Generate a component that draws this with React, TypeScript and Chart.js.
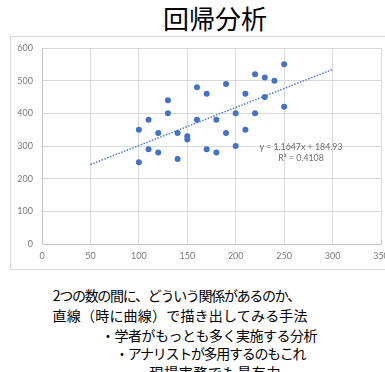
import { useEffect, useRef } from "react";
import { Chart, registerables } from "chart.js";

Chart.register(...registerables);

// ---- data ----
const xValues = [100, 100, 110, 110, 120, 120, 130, 130, 140, 140, 150, 150, 160, 160, 170, 170, 180, 180, 190, 190, 200, 200, 210, 210, 220, 220, 230, 230, 240, 250, 250];
const yValues = [350, 250, 380, 290, 340, 280, 440, 400, 340, 260, 330, 320, 480, 380, 460, 290, 380, 280, 490, 340, 400, 300, 460, 350, 520, 400, 510, 450, 500, 550, 420];
const trendX = [50, 300];
const slope = 1.1647;
const intercept = 184.93;
const rSquared = "0.4108";
const xTicks = [0, 50, 100, 150, 200, 250, 300, 350];
const yTicks = [0, 100, 200, 300, 400, 500, 600];

const titleText = "回帰分析";
const bodyLines = [
  "2つの数の間に、どういう関係があるのか、",
  "直線（時に曲線）で描き出してみる手法",
  "・学者がもっとも多く実施する分析",
  "・アナリストが多用するのもこれ",
  "・現場実務でも最有力",
];

const BLUE = "#4472C4";
const GRID = "#d9d9d9";
const TICK = "#7a7a7a";
const CJK = '"Noto Sans CJK JP", "Noto Sans CJK SC", sans-serif';

export default function App() {
  const ref = useRef<HTMLCanvasElement>(null);

  useEffect(() => {
    const chart = new Chart(ref.current!, {
      type: "scatter",
      data: {
        datasets: [
          {
            label: "data",
            data: xValues.map((x, i) => ({ x, y: yValues[i] })),
            backgroundColor: BLUE,
            borderColor: BLUE,
            pointRadius: 3,
            borderWidth: 0,
            order: 1,
          },
          {
            label: "trend",
            data: trendX.map((x) => ({ x, y: slope * x + intercept })),
            showLine: true,
            pointRadius: 0,
            borderColor: BLUE,
            borderWidth: 1.4,
            borderDash: [1.5, 1.5],
            fill: false,
            order: 2,
          } as any,
        ],
      },
      options: {
        animation: false,
        responsive: false,
        maintainAspectRatio: false,
        layout: { padding: { left: 0, top: 48, right: 19, bottom: 0 } },
        plugins: { legend: { display: false }, tooltip: { enabled: false } },
        scales: {
          x: {
            type: "linear",
            min: xTicks[0],
            max: xTicks[xTicks.length - 1],
            afterBuildTicks: (s: any) => {
              s.ticks = xTicks.map((v) => ({ value: v }));
            },
            ticks: { padding: 7, color: TICK, font: { family: "Lato", size: 9 } },
            grid: { color: GRID, drawTicks: false },
            border: { color: "#c8c8c8" },
            afterFit: (s: any) => {
              s.height = 36;
            },
          },
          y: {
            type: "linear",
            min: yTicks[0],
            max: yTicks[yTicks.length - 1],
            afterBuildTicks: (s: any) => {
              s.ticks = yTicks.map((v) => ({ value: v }));
            },
            ticks: { padding: 9, color: TICK, font: { family: "Lato", size: 9 } },
            grid: { color: GRID, drawTicks: false },
            border: { color: "#c8c8c8" },
            afterFit: (s: any) => {
              s.width = 42;
            },
          },
        },
      },
    });
    return () => chart.destroy();
  }, []);

  const lineStyle = (left: number, top: number, ls: number): any => ({
    position: "absolute",
    left,
    top,
    fontFamily: CJK,
    fontSize: 14,
    lineHeight: "14px",
    letterSpacing: ls,
    whiteSpace: "nowrap",
    color: "#000",
  });

  return (
    <div
      style={{
        position: "absolute",
        left: 0,
        top: 0,
        width: 385,
        height: 372,
        overflow: "hidden",
        background: "#fff",
      }}
    >
      <div
        style={{
          position: "absolute",
          left: 0,
          top: 4.5,
          width: 430,
          textAlign: "center",
          fontFamily: CJK,
          fontSize: 26,
          lineHeight: "26px",
          color: "#000",
          whiteSpace: "nowrap",
        }}
      >
        {titleText}
      </div>
      <div
        style={{
          position: "absolute",
          left: 10,
          top: 36,
          width: 400,
          height: 234,
          border: "1px solid #d9d9d9",
          boxSizing: "border-box",
        }}
      />
      <canvas
        ref={ref}
        width={400}
        height={280}
        style={{ position: "absolute", left: 0, top: 0, width: 400, height: 280 }}
      />
      <div
        style={{
          position: "absolute",
          left: 221,
          top: 141,
          width: 160,
          textAlign: "center",
          fontFamily: "Lato, sans-serif",
          fontSize: 8.8,
          lineHeight: "11.3px",
          color: "#6e6e6e",
          whiteSpace: "nowrap",
        }}
      >
        <div>{`y = ${slope}x + ${intercept}`}</div>
        <div>{`R² = ${rSquared}`}</div>
      </div>
      <div style={lineStyle(52.8, 288.2, -1.3)}>{bodyLines[0]}</div>
      <div style={lineStyle(52.6, 307.5, 0.2)}>{bodyLines[1]}</div>
      <div style={lineStyle(101, 327.5, -0.5)}>{bodyLines[2]}</div>
      <div style={lineStyle(115, 346.2, -1.3)}>{bodyLines[3]}</div>
      <div style={lineStyle(135, 365.2, 0.6)}>{bodyLines[4]}</div>
    </div>
  );
}
